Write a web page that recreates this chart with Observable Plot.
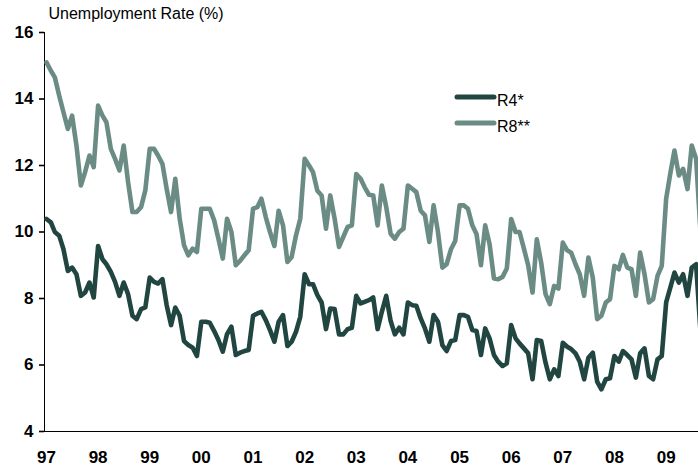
<!DOCTYPE html>
<html><head><meta charset="utf-8">
<script src="https://cdn.jsdelivr.net/npm/d3@7"></script>
<script src="https://cdn.jsdelivr.net/npm/@observablehq/plot@0.6"></script>
<style>
body{margin:0;background:#fff;font-family:"Liberation Sans",Arial,sans-serif;}
#wrap{position:relative;width:698px;height:469px;overflow:hidden;}
#wrap g[aria-label$="tick label"], #wrap g[aria-label$="tick label"] text{font-weight:bold;}
#wrap g[aria-label$="axis line"] line, #wrap g[aria-label$="axis line"] path,
#wrap g[aria-label$="axis tick"] path, #wrap g[aria-label$="axis tick"] line{stroke-width:1.6;}
#legend{position:absolute;left:0;top:0;pointer-events:none;}
</style></head><body><div id="wrap"></div>
<script>
const title = "Unemployment Rate (%)";
const yearLabels = ["97","98","99","00","01","02","03","04","05","06","07","08","09"];
const seriesNames = ["R4*", "R8**"];
const seriesColors = ["#214641", "#6b8c84"];
const yTicks = [4, 6, 8, 10, 12, 14, 16];

// monthly, Jan 1997 onward
const r4 = [
  10.39,10.29,10.0,9.89,9.48,8.83,8.93,8.73,8.08,8.18,8.48,8.03,
  9.58,9.18,9.03,8.8,8.5,8.08,8.48,8.13,7.48,7.38,7.68,7.73,
  8.63,8.5,8.45,8.58,7.8,7.2,7.73,7.48,6.72,6.6,6.52,6.27,
  7.3,7.3,7.27,7.02,6.75,6.4,6.93,7.15,6.3,6.37,6.42,6.45,
  7.48,7.55,7.6,7.35,7.05,6.7,7.3,7.5,6.57,6.7,7.0,7.45,
  8.73,8.43,8.43,8.1,7.88,7.08,7.7,7.68,6.92,6.92,7.08,7.12,
  8.08,7.85,7.9,7.95,8.03,7.08,7.6,8.08,7.33,6.92,7.12,6.92,
  7.88,7.8,7.78,7.4,7.1,6.7,7.5,7.3,6.6,6.42,6.72,6.75,
  7.5,7.5,7.45,7.05,7.02,6.3,7.1,6.8,6.3,6.1,5.97,6.05,
  7.2,6.8,6.65,6.5,6.35,5.57,6.75,6.72,6.07,5.57,5.87,5.67,
  6.67,6.55,6.48,6.35,6.1,5.57,6.22,6.37,5.5,5.27,5.57,5.6,
  6.27,6.1,6.42,6.3,6.17,5.62,6.35,6.5,5.67,5.57,6.17,6.27,
  7.88,8.35,8.78,8.48,8.73,8.08,8.93,9.03,7.0
];
const r8 = [
  15.1,14.85,14.65,14.1,13.6,13.1,13.5,12.6,11.4,11.8,12.3,11.95,
  13.8,13.5,13.3,12.5,12.2,11.85,12.6,11.5,10.6,10.6,10.75,11.25,
  12.5,12.5,12.3,12.05,11.3,10.6,11.6,10.4,9.6,9.3,9.5,9.4,
  10.7,10.7,10.7,10.35,9.8,9.2,10.4,10.0,9.0,9.13,9.3,9.45,
  10.7,10.75,11.0,10.45,10.0,9.58,10.64,10.2,9.1,9.25,9.9,10.4,
  12.2,12.0,11.8,11.24,11.1,10.1,11.1,10.4,9.55,9.85,10.15,10.2,
  11.74,11.6,11.35,11.12,11.1,10.2,11.4,10.75,9.95,9.8,10.0,10.1,
  11.4,11.3,11.2,10.64,10.5,9.7,10.8,10.0,8.93,9.03,9.48,9.73,
  10.8,10.8,10.7,10.2,9.93,9.0,10.2,9.64,8.6,8.58,8.65,8.9,
  10.39,10.0,10.0,9.5,9.0,8.18,9.78,9.08,8.13,7.83,8.38,8.3,
  9.68,9.45,9.38,9.03,8.73,8.08,9.23,8.63,7.38,7.48,7.88,7.98,
  8.98,8.88,9.31,8.93,8.88,8.08,9.38,8.73,7.88,7.98,8.68,8.98,
  11.0,11.8,12.45,11.7,11.9,11.29,12.6,12.2,10.0
];

const monthDate = i => new Date(Date.UTC(1997, i, 1));
const rows = [
  ...r4.map((v, i) => ({date: monthDate(i), value: v, series: seriesNames[0]})),
  ...r8.map((v, i) => ({date: monthDate(i), value: v, series: seriesNames[1]}))
];
const yearTicks = yearLabels.map((_, i) => new Date(Date.UTC(1997 + i, 0, 1)));

const chart = Plot.plot({
  width: 698, height: 469,
  marginLeft: 44, marginRight: 0, marginTop: 32, marginBottom: 38,
  style: {fontFamily: "'Liberation Sans', Arial, sans-serif", fontSize: "17px", color: "#000", background: "#fff", overflow: "visible"},
  x: {type: "utc", domain: [monthDate(0), monthDate(r4.length - 1)], range: [46, 700],
      ticks: yearTicks, tickFormat: d => yearLabels[d.getUTCFullYear() - 1997],
      tickSize: 0, tickPadding: 19, line: true, label: null},
  y: {domain: [4, 16], ticks: yTicks, tickSize: 5, tickPadding: 6, line: true, label: null},
  color: {domain: seriesNames, range: seriesColors},
  marks: [
    Plot.line(rows, {x: "date", y: "value", z: "series", stroke: "series",
      strokeWidth: 4.6, strokeLinejoin: "round", strokeLinecap: "round", clip: true}),
    Plot.text([title], {frameAnchor: "top-left", dx: 4, dy: -19, lineAnchor: "middle",
      textAnchor: "start", fontSize: 16, fill: "#000"})
  ]
});
const wrap = document.getElementById("wrap");
wrap.appendChild(chart);

// legend
const ns = "http://www.w3.org/2000/svg";
const lg = document.createElementNS(ns, "svg");
lg.setAttribute("id", "legend");
lg.setAttribute("width", 698); lg.setAttribute("height", 469);
seriesNames.forEach((name, i) => {
  const y = 97 + i * 26;
  const ln = document.createElementNS(ns, "line");
  ln.setAttribute("x1", 457); ln.setAttribute("x2", 494);
  ln.setAttribute("y1", y); ln.setAttribute("y2", y);
  ln.setAttribute("stroke", seriesColors[i]); ln.setAttribute("stroke-width", 5);
  ln.setAttribute("stroke-linecap", "round");
  lg.appendChild(ln);
  const tx = document.createElementNS(ns, "text");
  tx.setAttribute("x", 497); tx.setAttribute("y", y + 9);
  tx.setAttribute("font-size", 16);
  tx.setAttribute("font-family", "'Liberation Sans', Arial, sans-serif");
  tx.textContent = name;
  lg.appendChild(tx);
});
wrap.appendChild(lg);
</script></body></html>
